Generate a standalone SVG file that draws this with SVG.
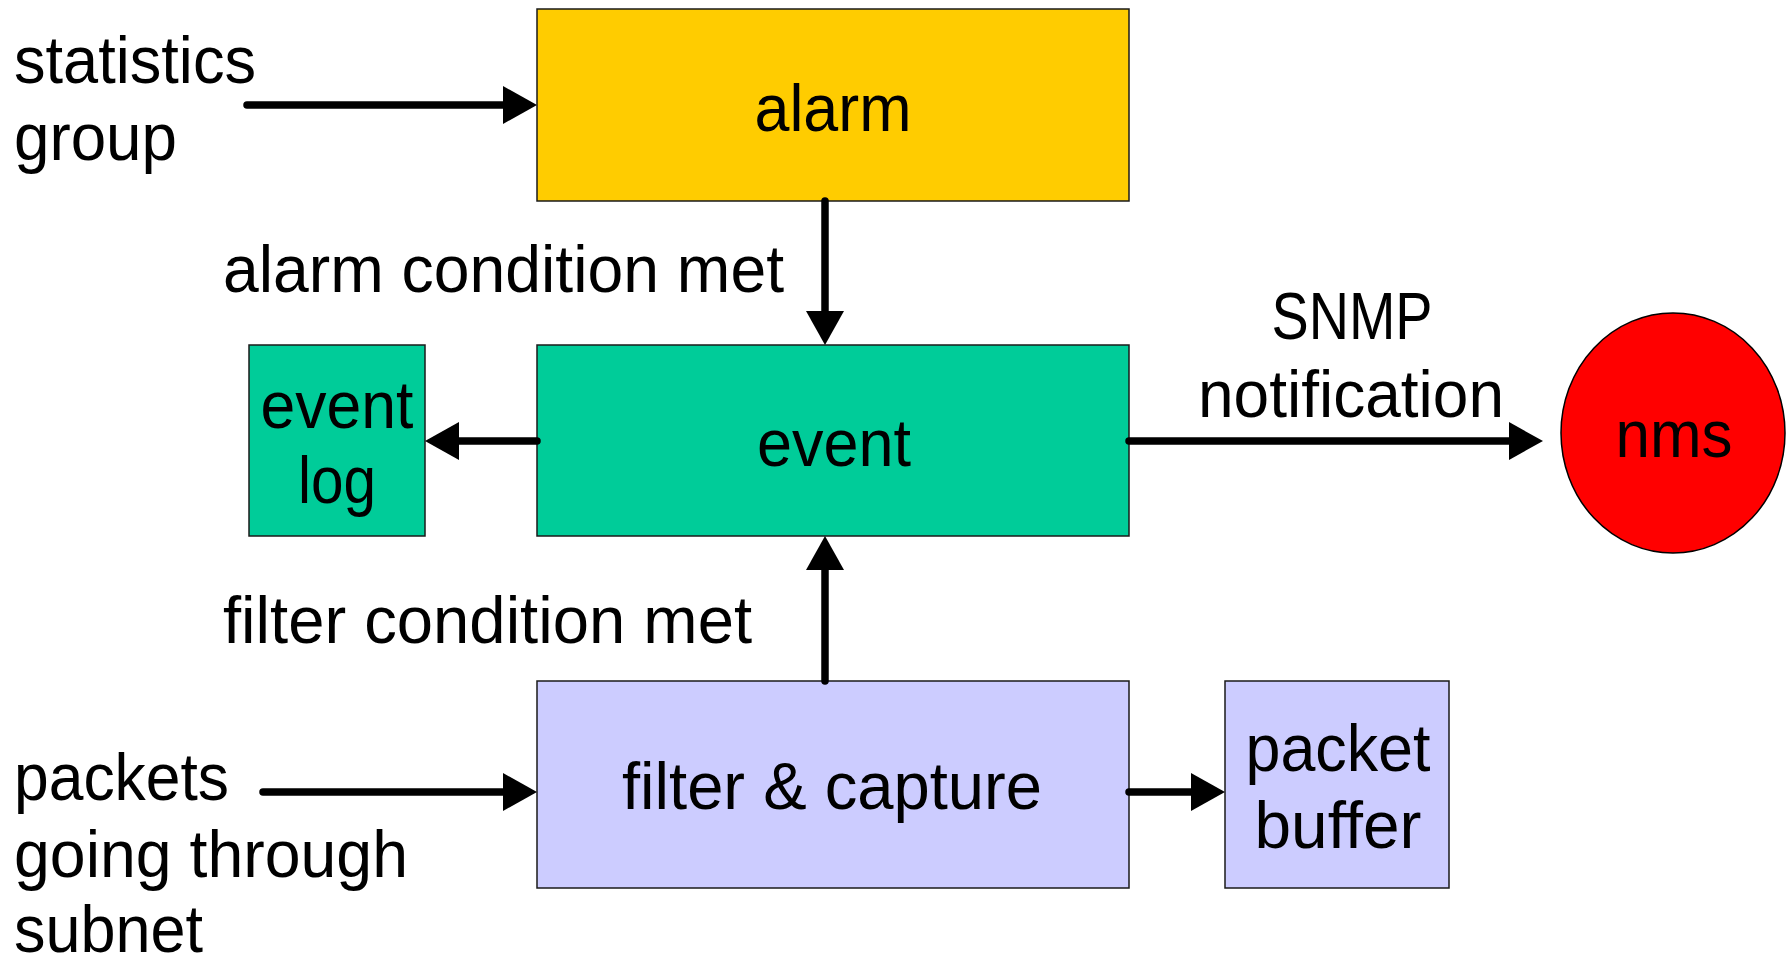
<svg xmlns="http://www.w3.org/2000/svg" width="1792" height="960" viewBox="0 0 1792 960">
  <style>
    text { font-family: "Liberation Sans", Arial, sans-serif; font-size: 66px; fill: #000; }
    .mid { text-anchor: middle; }
    .box { stroke: #1a1a1a; stroke-width: 1.5; }
    .alarm { fill: #FFCC00; }
    .event { fill: #00CC99; }
    .filter { fill: #CCCCFF; }
    .nms { fill: #FF0000; stroke: #000; stroke-width: 1.5; }
    .conn { stroke: #000; stroke-width: 7.5; stroke-linecap: round; fill: none; marker-end: url(#head); }
  </style>
  <defs>
    <marker id="head" markerUnits="userSpaceOnUse" markerWidth="36" markerHeight="38" refX="13" refY="19" orient="auto" overflow="visible">
      <path d="M0,0 L34,19 L0,38 z" fill="#000"/>
    </marker>
  </defs>
  <rect width="1792" height="960" fill="#fff"/>

  <!-- free-standing labels -->
  <g id="labels">
    <text x="14" y="83" textLength="242" lengthAdjust="spacingAndGlyphs">statistics</text>
    <text x="14" y="160" textLength="163" lengthAdjust="spacingAndGlyphs">group</text>
    <text x="223" y="292" textLength="561" lengthAdjust="spacingAndGlyphs">alarm condition met</text>
    <text x="223" y="643" textLength="529" lengthAdjust="spacingAndGlyphs">filter condition met</text>
    <text x="1352" y="339" class="mid" textLength="161" lengthAdjust="spacingAndGlyphs">SNMP</text>
    <text x="1351" y="417" class="mid" textLength="306" lengthAdjust="spacingAndGlyphs">notification</text>
    <text x="14" y="800" textLength="215" lengthAdjust="spacingAndGlyphs">packets</text>
    <text x="14" y="877" textLength="394" lengthAdjust="spacingAndGlyphs">going through</text>
    <text x="14" y="952" textLength="189" lengthAdjust="spacingAndGlyphs">subnet</text>
  </g>

  <g id="alarm">
    <rect class="box alarm" x="537" y="9" width="592" height="192"/>
    <text x="833" y="131" class="mid" textLength="157" lengthAdjust="spacingAndGlyphs">alarm</text>
  </g>

  <g id="event">
    <rect class="box event" x="537" y="345" width="592" height="191"/>
    <text x="834" y="466" class="mid" textLength="154" lengthAdjust="spacingAndGlyphs">event</text>
  </g>

  <g id="event-log">
    <rect class="box event" x="249" y="345" width="176" height="191"/>
    <text x="337" y="428" class="mid" textLength="153" lengthAdjust="spacingAndGlyphs">event</text>
    <text x="337" y="503" class="mid" textLength="78" lengthAdjust="spacingAndGlyphs">log</text>
  </g>

  <g id="nms">
    <ellipse class="nms" cx="1673" cy="433" rx="112" ry="120"/>
    <text x="1674" y="457" class="mid" textLength="117" lengthAdjust="spacingAndGlyphs">nms</text>
  </g>

  <g id="filter-capture">
    <rect class="box filter" x="537" y="681" width="592" height="207"/>
    <text x="832" y="809" class="mid" textLength="420" lengthAdjust="spacingAndGlyphs">filter &amp; capture</text>
  </g>

  <g id="packet-buffer">
    <rect class="box filter" x="1225" y="681" width="224" height="207"/>
    <text x="1338" y="771" class="mid" textLength="185" lengthAdjust="spacingAndGlyphs">packet</text>
    <text x="1338" y="848" class="mid" textLength="167" lengthAdjust="spacingAndGlyphs">buffer</text>
  </g>

  <!-- connectors: each line stops 21px short of the tip; the marker supplies the rest -->
  <g id="connectors">
    <path class="conn" d="M247,105 H516"/>
    <path class="conn" d="M825,201 V324"/>
    <path class="conn" d="M537,441 H446"/>
    <path class="conn" d="M1129,441 H1522"/>
    <path class="conn" d="M825,681 V557"/>
    <path class="conn" d="M1129,792 H1204"/>
    <path class="conn" d="M263,792 H516"/>
  </g>
</svg>
